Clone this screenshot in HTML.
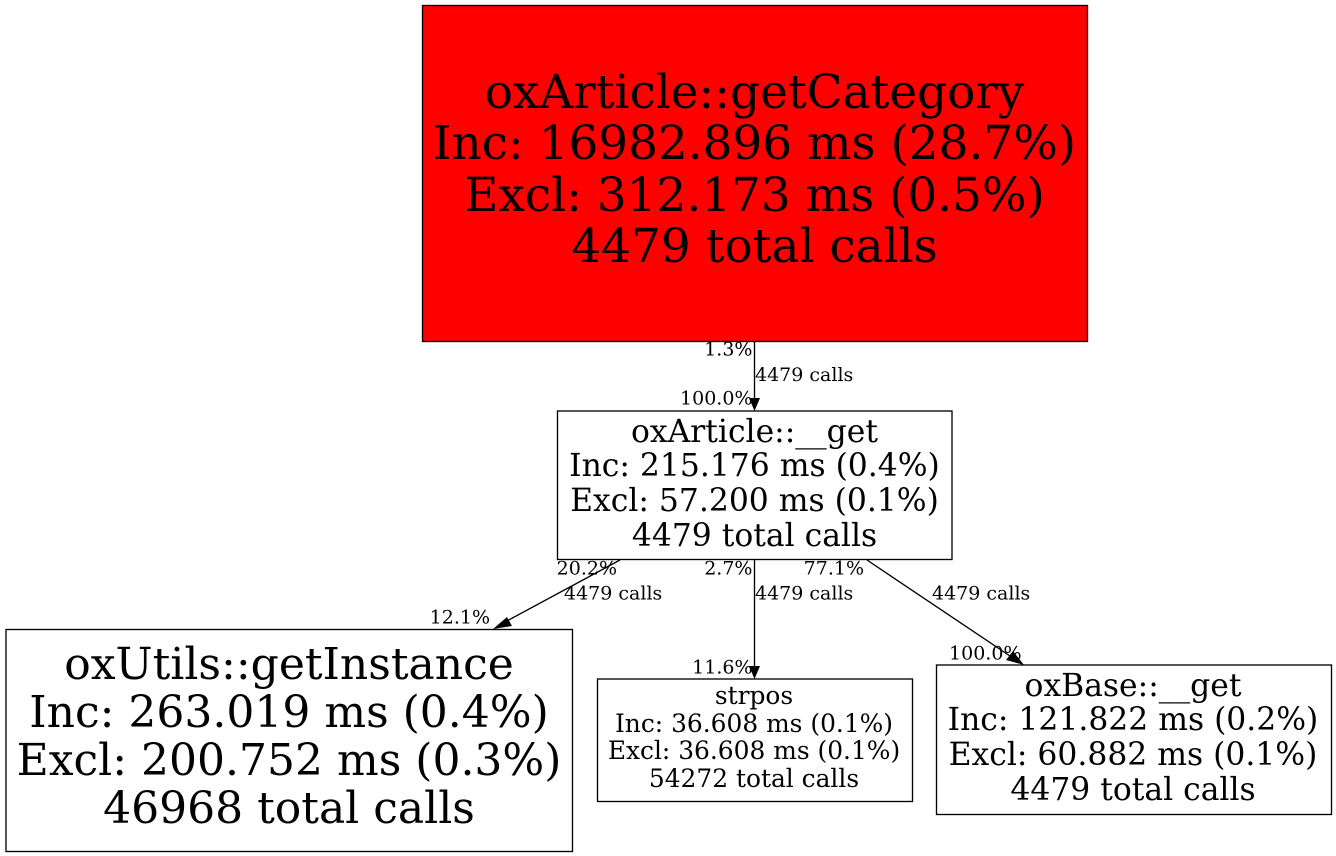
<!DOCTYPE html>
<html><head><meta charset="utf-8"><style>
html,body{margin:0;padding:0;background:#fff;width:1336px;height:856px;overflow:hidden}
svg{display:block}
text{font-family:"DejaVu Serif",serif;fill:#000;text-anchor:middle}
.s{text-anchor:start}
.n{text-anchor:end}
</style></head><body>
<svg width="1336" height="856" viewBox="0 0 1336 856" xmlns="http://www.w3.org/2000/svg">
<g stroke="#000" stroke-width="1.33">
<rect x="422.5" y="5.5" width="665" height="336" fill="#ff0000"/>
<rect x="557.5" y="411" width="394.5" height="148.5" fill="#fff"/>
<rect x="6" y="629.5" width="566.5" height="222" fill="#fff"/>
<rect x="597.5" y="679" width="315" height="122.5" fill="#fff"/>
<rect x="936.5" y="665" width="395" height="149.5" fill="#fff"/>
<path d="M754.5 342V399M754.5 560V667M620 560L505 622M867 560L1010 656" fill="none"/>
</g>
<path d="M749 398H760L754.5 411ZM749 666H760L754.5 679ZM493 629L507 617L512 626ZM1024 665L1006 660L1013 651Z" fill="#000"/>
<g font-size="46.9">
<text x="754.5" y="108">oxArticle::getCategory</text>
<text x="754.5" y="159">Inc: 16982.896 ms (28.7%)</text>
<text x="754.5" y="211">Excl: 312.173 ms (0.5%)</text>
<text x="754.5" y="262">4479 total calls</text>
</g>
<g font-size="31.4">
<text x="754.5" y="442">oxArticle::__get</text>
<text x="754.5" y="476">Inc: 215.176 ms (0.4%)</text>
<text x="754.5" y="511">Excl: 57.200 ms (0.1%)</text>
<text x="754.5" y="546">4479 total calls</text>
</g>
<g font-size="44">
<text x="289" y="679">oxUtils::getInstance</text>
<text x="289" y="727">Inc: 263.019 ms (0.4%)</text>
<text x="289" y="775">Excl: 200.752 ms (0.3%)</text>
<text x="289" y="823">46968 total calls</text>
</g>
<g font-size="24.9">
<text x="754" y="704">strpos</text>
<text x="754" y="732">Inc: 36.608 ms (0.1%)</text>
<text x="754" y="759">Excl: 36.608 ms (0.1%)</text>
<text x="754" y="787">54272 total calls</text>
</g>
<g font-size="31.4">
<text x="1133" y="696">oxBase::__get</text>
<text x="1133" y="730">Inc: 121.822 ms (0.2%)</text>
<text x="1133" y="765">Excl: 60.882 ms (0.1%)</text>
<text x="1133" y="800">4479 total calls</text>
</g>
<g font-size="19">
<text class="n" x="752.5" y="355.5">1.3%</text>
<text class="s" x="755" y="381">4479 calls</text>
<text class="n" x="752.5" y="404.5">100.0%</text>
<text class="n" x="617" y="574.5">20.2%</text>
<text class="s" x="564" y="599.5">4479 calls</text>
<text class="n" x="490" y="623.5">12.1%</text>
<text class="n" x="752.5" y="574.5">2.7%</text>
<text class="s" x="755" y="599.5">4479 calls</text>
<text class="n" x="752.5" y="673.5">11.6%</text>
<text class="n" x="864" y="574.5">77.1%</text>
<text class="s" x="932" y="599.5">4479 calls</text>
<text class="n" x="1021.5" y="659.5">100.0%</text>
</g>
</svg>
</body></html>
